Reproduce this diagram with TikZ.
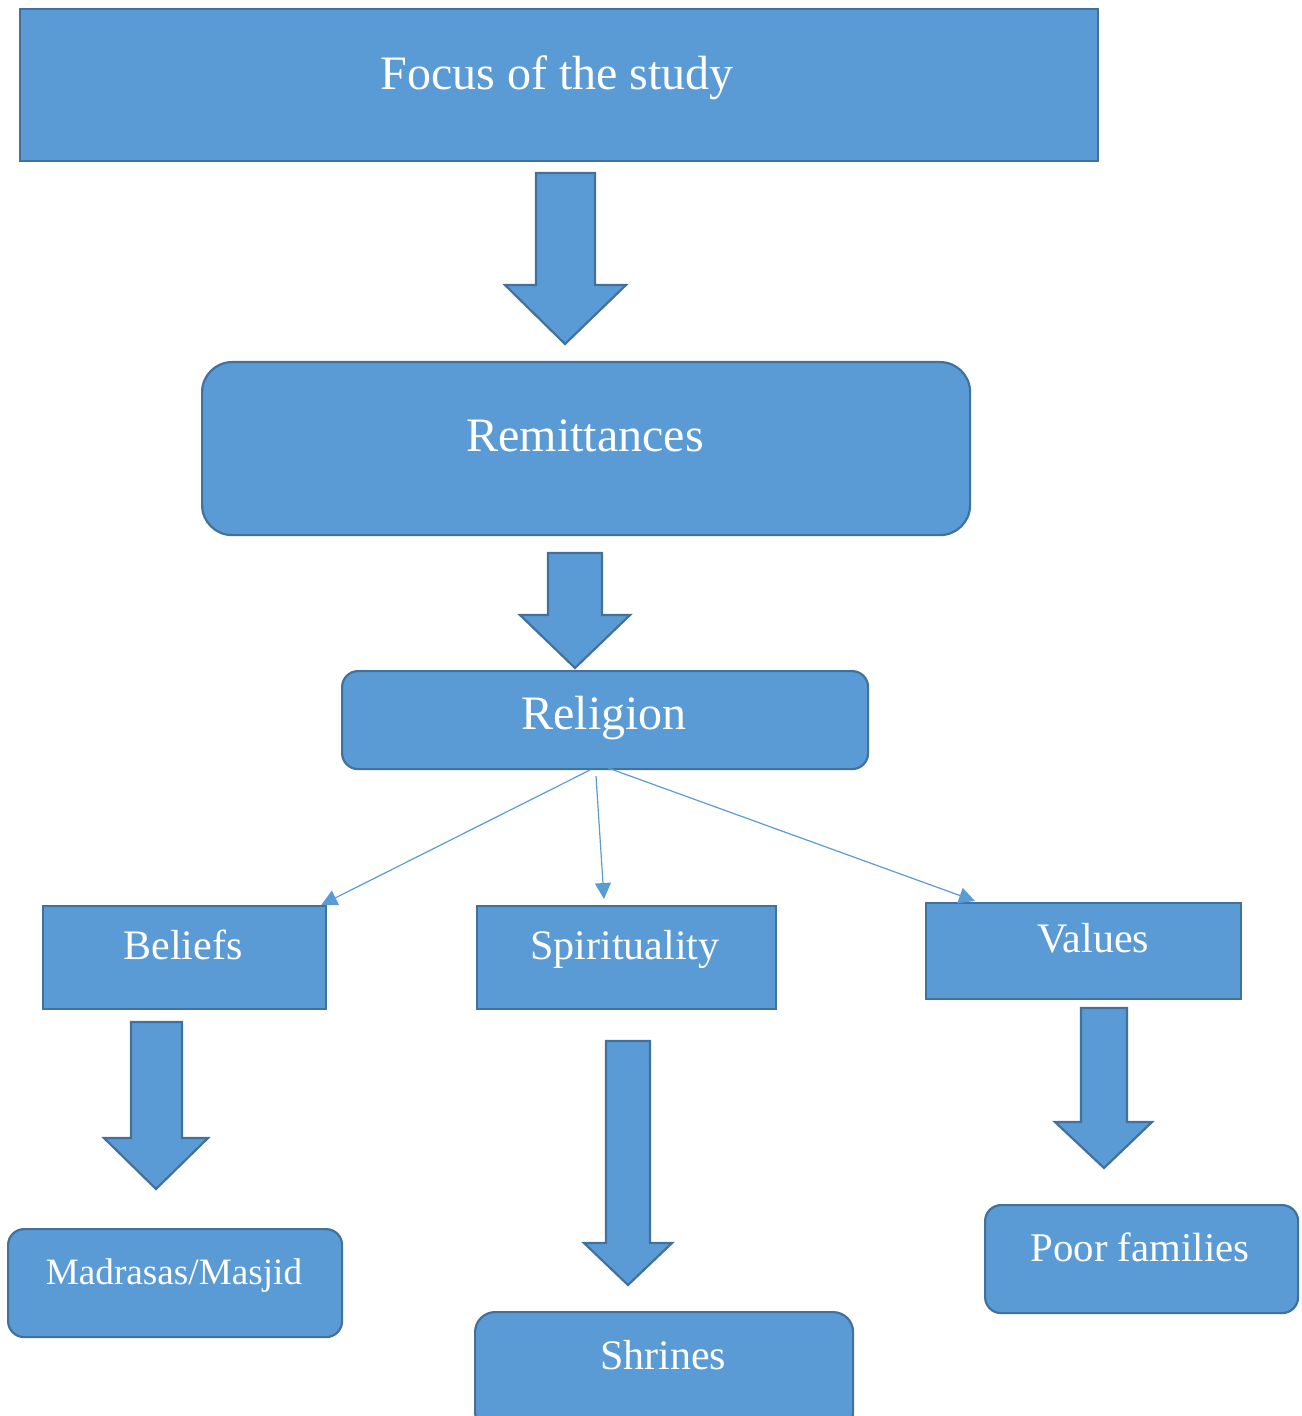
\documentclass[tikz,border=0pt]{standalone}
\usepackage{fontspec}
\setmainfont{Liberation Serif}
\usetikzlibrary{calc,arrows.meta}
\definecolor{boxfill}{HTML}{5B9BD5}
\definecolor{boxline}{HTML}{41719C}
\begin{document}
\begin{tikzpicture}[x=0.5pt,y=-0.5pt,
  box/.style={draw=boxline,fill=boxfill,line width=1.1pt,inner sep=0pt},
  rbox/.style={box,rounded corners=#1},
  blockarrow/.style={draw=boxline,fill=boxfill,line width=1.1pt,line join=miter},
  lbl/.style={text=white,inner sep=0pt},
  conn/.style={draw=boxfill,line width=0.6pt,-{Triangle[length=8pt,width=8pt]}}
]
\useasboundingbox (0,0) rectangle (1301,1416);
\clip (0,0) rectangle (1301,1416);
% boxes
\path (19,8) node[box,anchor=north west,minimum width=539pt,minimum height=76pt] (focus) {};
\path (201,361) node[rbox=15pt,anchor=north west,minimum width=384pt,minimum height=86.5pt] (rem) {};
\path (341,670) node[rbox=8pt,anchor=north west,minimum width=263pt,minimum height=49pt] (rel) {};
\path (42,905) node[box,anchor=north west,minimum width=141.5pt,minimum height=51.5pt] (bel) {};
\path (476,905) node[box,anchor=north west,minimum width=149.5pt,minimum height=51.5pt] (spi) {};
\path (925,902) node[box,anchor=north west,minimum width=157.5pt,minimum height=48pt] (val) {};
\path (7,1228) node[rbox=8pt,anchor=north west,minimum width=167pt,minimum height=54pt] (mad) {};
\path (474,1311) node[rbox=10pt,anchor=north west,minimum width=189pt,minimum height=60pt] (shr) {};
\path (984,1204) node[rbox=8pt,anchor=north west,minimum width=156.5pt,minimum height=54pt] (poor) {};
% labels
\node[lbl,font=\fontsize{24}{28}\selectfont] (tfocus) at (557,78) {Focus of the study};
\node[lbl,font=\fontsize{24}{28}\selectfont] (trem) at (585,436) {Remittances};
\node[lbl,font=\fontsize{24}{28}\selectfont] (trel) at (604,718) {Religion};
\node[lbl,font=\fontsize{21}{25}\selectfont] (tbel) at (183,945) {Beliefs};
\node[lbl,font=\fontsize{21}{25}\selectfont] (tspi) at (625,949) {Spirituality};
\node[lbl,font=\fontsize{21}{25}\selectfont] (tval) at (1093,938) {Values};
\node[lbl,font=\fontsize{18.6}{22}\selectfont] (tmad) at (174,1276) {Madrasas/Masjid};
\node[lbl,font=\fontsize{21}{25}\selectfont] (tshr) at (663,1355) {Shrines};
\node[lbl,font=\fontsize{20.4}{24}\selectfont] (tpoor) at (1140,1247) {Poor families};
% block arrows
\draw[blockarrow] (536,173) -- (595,173) -- (595,285) -- (626,285) -- (565,344) -- (505,285) -- (536,285) -- cycle;
\draw[blockarrow] (548,553) -- (602,553) -- (602,615) -- (630,615) -- (575,668) -- (520,615) -- (548,615) -- cycle;
\draw[blockarrow] (131,1022) -- (182,1022) -- (182,1138) -- (208,1138) -- (156,1189) -- (104,1138) -- (131,1138) -- cycle;
\draw[blockarrow] (606,1041) -- (650,1041) -- (650,1243) -- (672,1243) -- (628,1285) -- (584,1243) -- (606,1243) -- cycle;
\draw[blockarrow] (1081,1008) -- (1127,1008) -- (1127,1122) -- (1152,1122) -- (1104,1168) -- (1055,1122) -- (1081,1122) -- cycle;
% connectors
\coordinate (r1) at (590,770);
\coordinate (r2) at (596,776);
\coordinate (r3) at (608,768);
\draw[conn] (r1) -- ($(bel.north east)+(-6,0)$);
\draw[conn] (r2) -- ($(spi.north west)+(128,-6)$);
\draw[conn] (r3) -- ($(val.north west)+(50,-1)$);
\end{tikzpicture}
\end{document}
